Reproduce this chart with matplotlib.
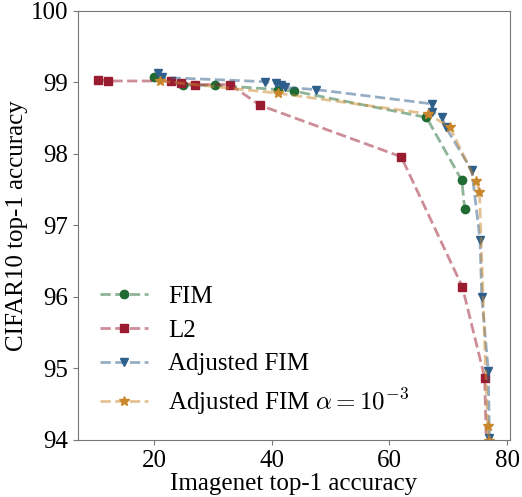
import matplotlib
matplotlib.use('Agg')
import matplotlib.pyplot as plt

plt.rcParams['font.family'] = 'Liberation Serif'
plt.rcParams['mathtext.fontset'] = 'cm'

# FIM
fim_x = [20.0, 24.9, 30.3, 41.0, 43.7, 66.3, 72.3, 72.8]
fim_y = [99.07, 98.96, 98.96, 98.90, 98.88, 98.51, 97.63, 97.23]

# L2
l2_x = [10.4, 12.1, 22.8, 24.6, 27.0, 32.9, 38.0, 62.0, 72.4, 76.2, 76.6]
l2_y = [99.04, 99.02, 99.02, 98.99, 98.97, 98.97, 98.68, 97.96, 96.14, 94.87, 93.5]

# Adjusted FIM
afim_x = [20.6, 21.3, 38.9, 40.7, 41.6, 42.3, 47.5, 67.2, 67.3, 68.9, 69.6,
          74.0, 75.4, 75.7, 76.8, 77.0]
afim_y = [99.13, 99.07, 99.01, 98.99, 98.97, 98.93, 98.90, 98.70, 98.59, 98.51, 98.37,
          97.77, 96.80, 96.00, 94.97, 94.02]

# Adjusted FIM alpha=1e-3
alpha_x = [21.0, 41.0, 66.6, 70.3, 74.7, 75.3, 76.7, 77.0]
alpha_y = [99.02, 98.85, 98.56, 98.37, 97.62, 97.47, 94.19, 93.98]

series = [
    (fim_x, fim_y, 'FIM', 'o', '#1f6b32'),
    (l2_x, l2_y, 'L2', 's', '#9b1c31'),
    (afim_x, afim_y, 'Adjusted FIM', 'v', '#2e5f8a'),
    (alpha_x, alpha_y, r'Adjusted FIM $\alpha=10^{-3}$', '*', '#c9862b'),
]

fig, ax = plt.subplots(figsize=(5.22, 4.97), dpi=100)
for xs, ys, lab, mk, c in series:
    rgb = matplotlib.colors.to_rgb(c)
    ax.plot(xs, ys, linestyle='--', color=rgb + (0.5,), linewidth=2,
            marker=mk, markersize=7.5 if mk == '*' else 6,
            markerfacecolor=c, markeredgecolor=c, label=lab)

ax.set_ylim(94, 100)
ax.set_xlim(7, 80.5)
ax.set_xticks([20, 40, 60, 80])
ax.set_xlabel('Imagenet top-1 accuracy', fontsize=18, labelpad=1)
ax.set_ylabel('CIFAR10 top-1 accuracy', fontsize=18, labelpad=2)
ax.tick_params(labelsize=18)
for s in ax.spines.values():
    s.set_color('#777777')
ax.tick_params(color='#777777')
ax.legend(loc='lower left', frameon=False, fontsize=18, labelspacing=0.45,
          handlelength=1.9, bbox_to_anchor=(0.0, 0.0))

plt.subplots_adjust(left=0.149, right=0.977, top=0.978, bottom=0.115)
plt.savefig('out.png', dpi=100)
